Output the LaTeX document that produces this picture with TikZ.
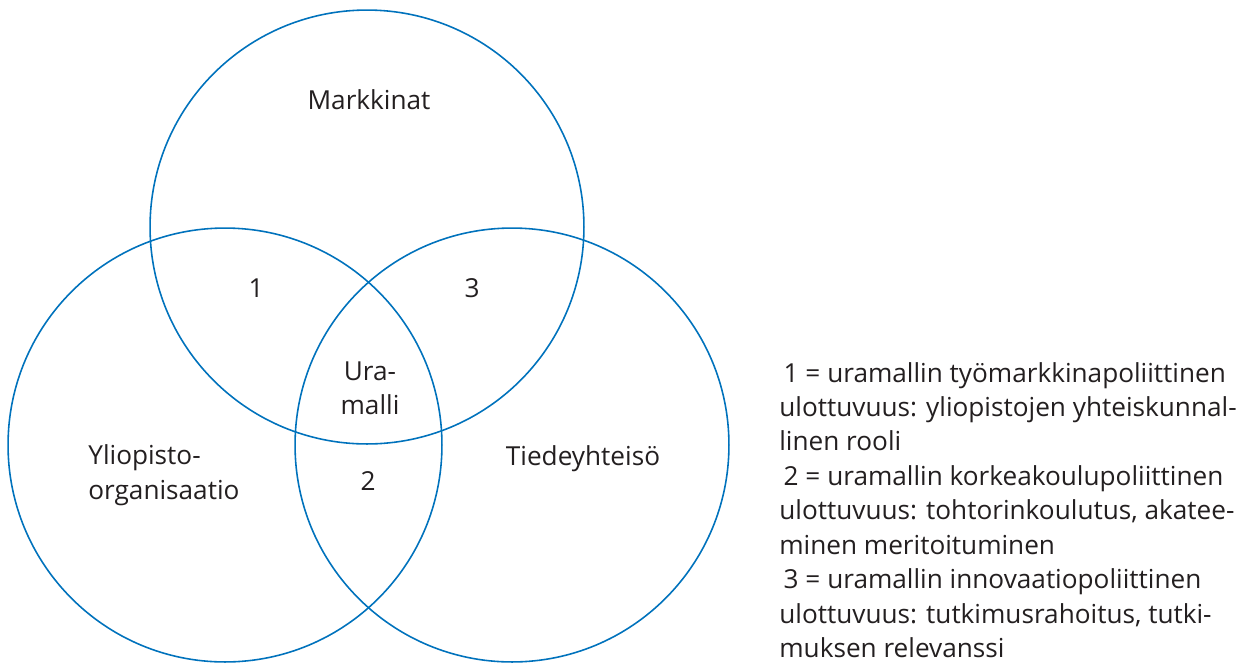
\documentclass[tikz,border=0pt]{standalone}
\usepackage{fontspec}
\setmainfont{Open Sans}
\usepackage{tikz}
\usetikzlibrary{positioning}
\definecolor{vennblue}{RGB}{0,114,188}
\definecolor{inkgray}{RGB}{35,31,32}

\begin{document}
\begin{tikzpicture}[x=0.02cm, y=0.02cm,
    every node/.style={font=\fontsize{14.9}{19.6}\selectfont, text=inkgray},
    venn/.style={draw=vennblue, line width=0.9pt, circle, minimum size=8.68cm, inner sep=0pt}]
    \useasboundingbox (0,0) rectangle (1252,-664);
    % the three circles
    \node[venn] (markkinat) at (367,-227) {};
    \node[venn] (yliopisto) at (225,-445) {};
    \node[venn] (tiede) at (512,-445) {};

    % labels inside
    \node (lblmark) at (369,-100) {Markkinat};
    \node (lbl1) at (256,-288) {1};
    \node (lbl3) at (472,-288) {3};
    \node[align=center] (lblura) at (370,-388) {Ura-\\malli};
    \node[align=left, anchor=west, inner sep=0pt] (lblyo) at (88,-475) {Yliopisto-\\organisaatio};
    \node (lbl2) at (368,-481) {2};
    \node (lbltiede) at (583,-459) {Tiedeyhteisö};

    % legend
    \node[align=left, anchor=west, inner sep=0pt] (legend) at (779,-510) {%
        \,1 = uramallin työmarkkinapoliittinen\\
        ulottuvuus: yliopistojen yhteiskunnal-\\
        linen rooli\\
        \,2 = uramallin korkeakoulupoliittinen\\
        ulottuvuus: tohtorinkoulutus, akatee-\\
        minen meritoituminen\\
        \,3 = uramallin innovaatiopoliittinen\\
        ulottuvuus: tutkimusrahoitus, tutki-\\
        muksen relevanssi};
\end{tikzpicture}
\end{document}
